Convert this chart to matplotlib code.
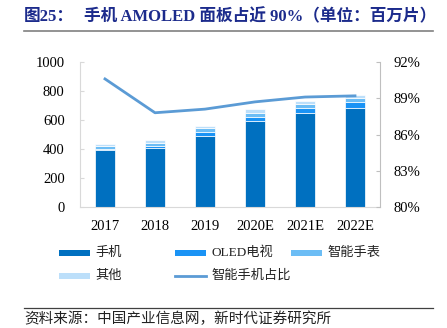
import matplotlib
matplotlib.use("Agg")
import matplotlib.pyplot as plt
import numpy as np
from matplotlib.lines import Line2D
from matplotlib.patches import Rectangle

plt.rcParams['font.family'] = ['Liberation Serif', 'Noto Sans CJK SC', 'DejaVu Sans']

categories = ['2017', '2018', '2019', '2020E', '2021E', '2022E']
phone = [395, 405, 492, 595, 650, 685]
oled_tv = [3, 15, 27, 26, 33, 39]
watch = [24, 22, 26, 29, 29, 26]
other = [13, 18, 16, 24, 19, 22]
share = [90.6, 87.8, 88.1, 88.7, 89.1, 89.2]

series_names = ['手机', 'OLED电视', '智能手表', '其他']
line_name = '智能手机占比'
colors = ['#0070C0', '#1A93F5', '#6CBDF5', '#BCDFFA']
line_color = '#5B9BD5'

left_ticks = [0, 200, 400, 600, 800, 1000]
right_ticks = [80, 83, 86, 89, 92]

W, H = 447, 328
fig = plt.figure(figsize=(W / 100, H / 100), dpi=100)
ax = fig.add_axes([80 / W, 1 - 207 / H, 300 / W, 145 / H])
ax2 = ax.twinx()

x = np.arange(len(categories))
bottom = np.zeros(len(categories))
for vals, c in zip([phone, oled_tv, watch, other], colors):
    ax.bar(x, vals, 0.4, bottom=bottom, color=c, edgecolor='white', linewidth=0.5, zorder=2)
    bottom += np.array(vals)

ax2.plot(x, share, color=line_color, lw=2, zorder=3)

ax.set_xlim(-0.5, len(categories) - 0.5)
ax.set_ylim(0, 1000)
ax2.set_ylim(80, 92)
ax.set_yticks(left_ticks)
ax.set_yticklabels([str(t) for t in left_ticks])
ax2.set_yticks(right_ticks)
ax2.set_yticklabels([f'{t}%' for t in right_ticks])
ax.set_xticks(x)
ax.set_xticklabels(categories)

spine_c = '#D9D9D9'
for a in (ax, ax2):
    a.spines['top'].set_visible(False)
    a.spines['left'].set_color(spine_c)
    a.spines['right'].set_color('#BFBFBF')
    a.spines['bottom'].set_color(spine_c)
ax.spines['right'].set_visible(False)
ax2.spines['left'].set_visible(False)
ax2.spines['bottom'].set_visible(False)

ax.tick_params(axis='y', direction='in', length=3, color=spine_c, labelsize=10.5, pad=11)
ax.tick_params(axis='x', length=0, labelsize=10.5, pad=9)
ax2.tick_params(axis='y', direction='in', length=3, color='#BFBFBF', labelsize=10.5, pad=10)

# Title
title_font = ['Liberation Serif', 'Noto Sans CJK SC']
fig.text(24 / W, 1 - 17 / H, '图25：', fontsize=12, fontweight='bold', color='#1C2B8C',
         va='center', ha='left', family=title_font)
fig.text(84 / W, 1 - 17 / H, '手机 AMOLED 面板占近 90%（单位：百万片）', fontsize=12,
         fontweight='bold', color='#1C2B8C', va='center', ha='left', family=title_font)
fig.add_artist(Line2D([24 / W, 433 / W], [1 - 31 / H, 1 - 31 / H], color='#808080', lw=1.2))

# Legend (manually laid out)
leg_font = ['Liberation Serif', 'Noto Sans CJK SC']
items = [
    ('patch', colors[0], series_names[0], 59, 253),
    ('patch', colors[1], series_names[1], 175, 253),
    ('patch', colors[2], series_names[2], 291, 253),
    ('patch', colors[3], series_names[3], 59, 276),
    ('line', line_color, line_name, 175, 276),
]
for kind, c, lab, px, py in items:
    if kind == 'patch':
        fig.add_artist(Rectangle((px / W, 1 - (py + 3) / H), 31 / W, 6 / H,
                                 transform=fig.transFigure, color=c, lw=0))
    else:
        fig.add_artist(Line2D([px / W, (px + 31) / W], [1 - py / H, 1 - py / H],
                              color=c, lw=2))
    fig.text((px + 36) / W, 1 - py / H, lab, fontsize=9.5, va='center', ha='left',
             family=leg_font, color='#222222')

fig.add_artist(Line2D([24 / W, 433 / W], [1 - 308 / H, 1 - 308 / H], color='#404040', lw=0.9))
fig.text(24 / W, 1 - 319 / H, '资料来源：中国产业信息网，新时代证券研究所', fontsize=10.5,
         color='#222222', va='center', ha='left', family=['Noto Sans CJK SC'])

fig.savefig('out.png', dpi=100)
